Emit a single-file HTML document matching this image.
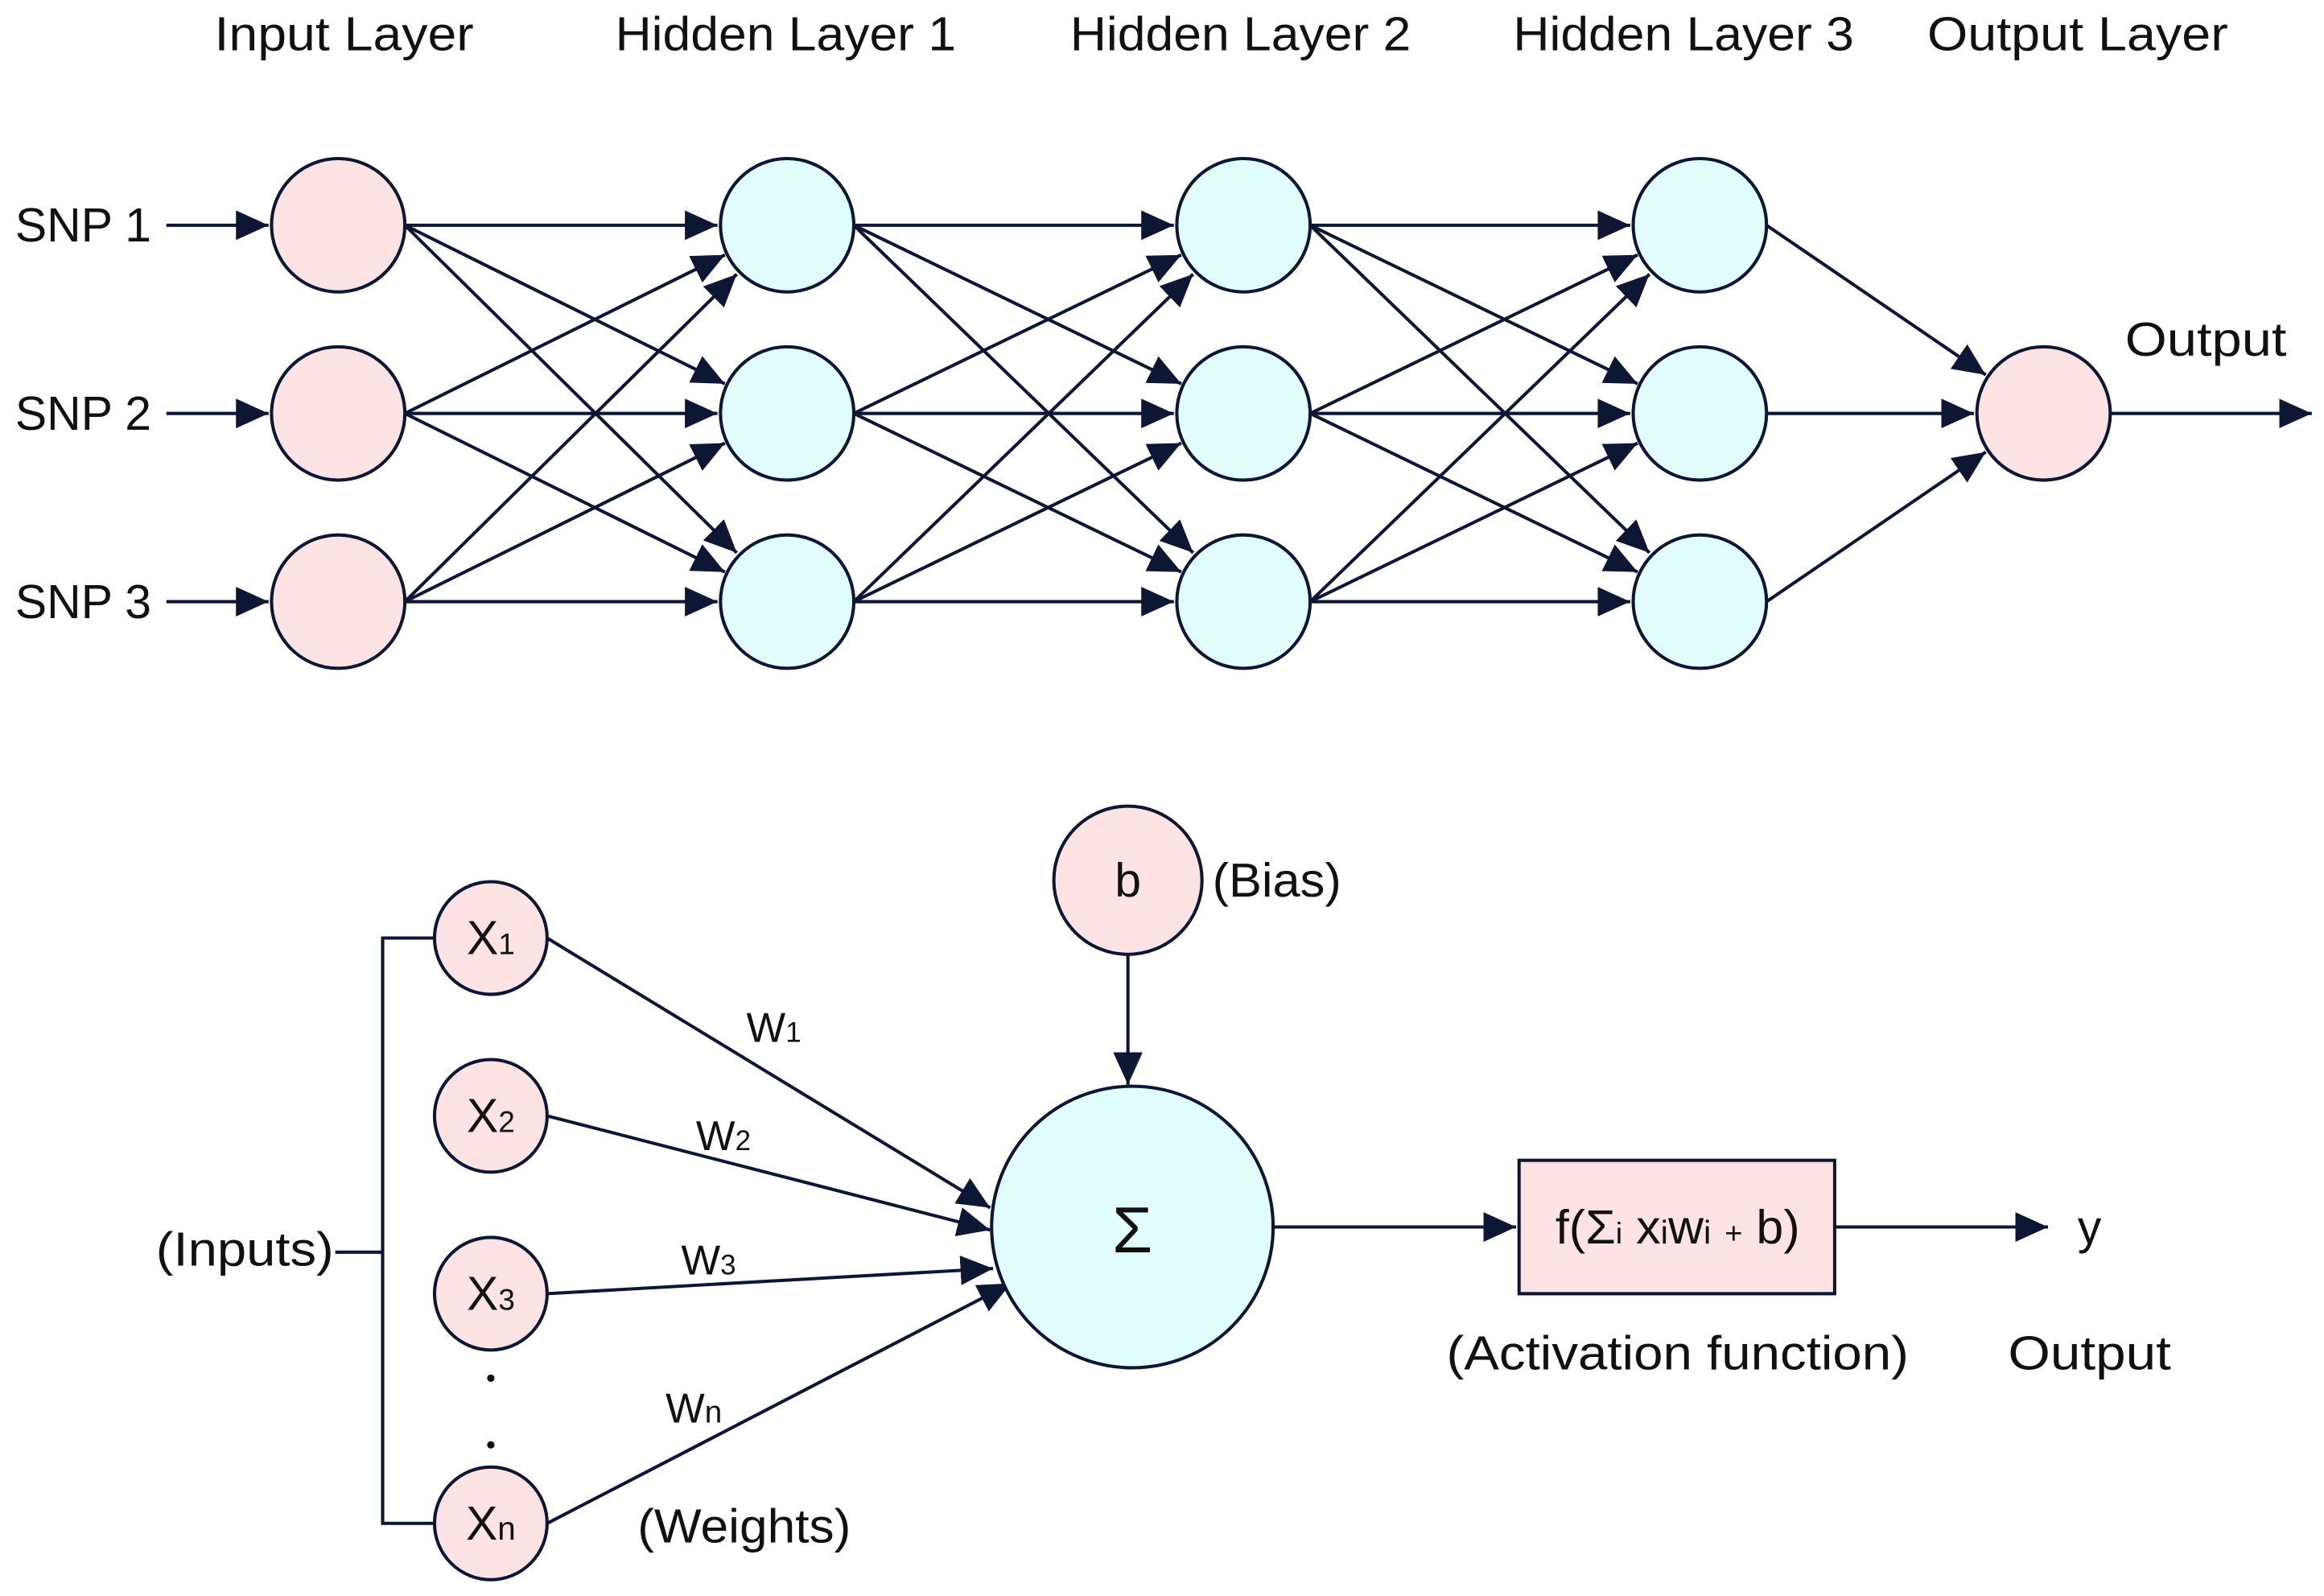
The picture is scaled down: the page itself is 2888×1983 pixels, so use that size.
<!DOCTYPE html>
<html><head><meta charset="utf-8"><style>
html,body{margin:0;padding:0;background:#fff}
svg{display:block}
text{font-family:"Liberation Sans","DejaVu Sans",sans-serif;fill:#111}
</style></head><body>
<svg width="2888" height="1983" viewBox="0 0 1568 1077" xmlns="http://www.w3.org/2000/svg">
<defs>
<marker id="a" markerUnits="userSpaceOnUse" markerWidth="24" markerHeight="20" refX="22" refY="10" orient="auto">
<path d="M0,0 L22,10 L0,20 Z" fill="#0d1633"/>
</marker>
</defs>
<g font-size="32" text-anchor="middle">
<text x="232" y="34" textLength="175" lengthAdjust="spacingAndGlyphs">Input Layer</text>
<text x="530" y="34" textLength="230" lengthAdjust="spacingAndGlyphs">Hidden Layer 1</text>
<text x="837" y="34" textLength="230" lengthAdjust="spacingAndGlyphs">Hidden Layer 2</text>
<text x="1136" y="34" textLength="230" lengthAdjust="spacingAndGlyphs">Hidden Layer 3</text>
<text x="1402" y="34" textLength="203" lengthAdjust="spacingAndGlyphs">Output Layer</text>
</g>
<g font-size="32">
<text x="10" y="163">SNP 1</text>
<text x="10" y="290">SNP 2</text>
<text x="10" y="417">SNP 3</text>
<text x="1434" y="240" textLength="109" lengthAdjust="spacingAndGlyphs">Output</text>
</g>
<g stroke="#0d1633" stroke-width="2.2" marker-end="url(#a)" fill="none">
<line x1="112" y1="152" x2="181" y2="152"/>
<line x1="112" y1="279" x2="181" y2="279"/>
<line x1="112" y1="406" x2="181" y2="406"/>
<line x1="273" y1="152" x2="484" y2="152"/><line x1="273" y1="152" x2="489" y2="259"/><line x1="273" y1="152" x2="497" y2="373"/>
<line x1="273" y1="279" x2="489" y2="172"/><line x1="273" y1="279" x2="484" y2="279"/><line x1="273" y1="279" x2="489" y2="386"/>
<line x1="273" y1="406" x2="497" y2="185"/><line x1="273" y1="406" x2="489" y2="299"/><line x1="273" y1="406" x2="484" y2="406"/>
<line x1="576" y1="152" x2="792" y2="152"/><line x1="576" y1="152" x2="797" y2="259"/><line x1="576" y1="152" x2="805" y2="373"/>
<line x1="576" y1="279" x2="797" y2="172"/><line x1="576" y1="279" x2="792" y2="279"/><line x1="576" y1="279" x2="797" y2="386"/>
<line x1="576" y1="406" x2="805" y2="185"/><line x1="576" y1="406" x2="797" y2="299"/><line x1="576" y1="406" x2="792" y2="406"/>
<line x1="884" y1="152" x2="1100" y2="152"/><line x1="884" y1="152" x2="1105" y2="259"/><line x1="884" y1="152" x2="1113" y2="373"/>
<line x1="884" y1="279" x2="1105" y2="172"/><line x1="884" y1="279" x2="1100" y2="279"/><line x1="884" y1="279" x2="1105" y2="386"/>
<line x1="884" y1="406" x2="1113" y2="185"/><line x1="884" y1="406" x2="1105" y2="299"/><line x1="884" y1="406" x2="1100" y2="406"/>
<line x1="1192" y1="152" x2="1340" y2="253"/>
<line x1="1192" y1="279" x2="1332" y2="279"/>
<line x1="1192" y1="406" x2="1340" y2="305"/>
<line x1="1424" y1="279" x2="1560" y2="279"/>
<line x1="761" y1="644" x2="761" y2="732"/>
<line x1="369" y1="633" x2="668" y2="815"/>
<line x1="369" y1="753" x2="668" y2="830"/>
<line x1="369" y1="873" x2="670" y2="856"/>
<line x1="369" y1="1028" x2="682" y2="866"/>
<line x1="860" y1="828" x2="1023" y2="828"/>
<line x1="1238" y1="828" x2="1382" y2="828"/>
</g>
<g stroke="#0d1633" stroke-width="2.2" fill="none">
<polyline points="293,633 258,633 258,1028 293,1028"/>
<line x1="226" y1="845" x2="258" y2="845"/>
</g>
<g stroke="#0d1633" stroke-width="2.2">
<g fill="#fde3e3">
<circle cx="228" cy="152" r="45"/><circle cx="228" cy="279" r="45"/><circle cx="228" cy="406" r="45"/>
<circle cx="1379" cy="279" r="45"/>
<circle cx="761" cy="594" r="50"/>
<circle cx="331" cy="633" r="38"/><circle cx="331" cy="753" r="38"/><circle cx="331" cy="873" r="38"/><circle cx="331" cy="1028" r="38"/>
<rect x="1025" y="783" width="213" height="90"/>
</g>
<g fill="#e0fdfb">
<circle cx="531" cy="152" r="45"/><circle cx="531" cy="279" r="45"/><circle cx="531" cy="406" r="45"/>
<circle cx="839" cy="152" r="45"/><circle cx="839" cy="279" r="45"/><circle cx="839" cy="406" r="45"/>
<circle cx="1147" cy="152" r="45"/><circle cx="1147" cy="279" r="45"/><circle cx="1147" cy="406" r="45"/>
<circle cx="764" cy="828" r="95"/>
</g>
</g>
<circle cx="331" cy="930" r="2.5" fill="#111"/><circle cx="331" cy="975" r="2.5" fill="#111"/>
<g font-size="32" text-anchor="middle">
<text x="761" y="605">b</text>
<text x="764" y="845" font-size="44">Σ</text>
<text x="331" y="644">X<tspan font-size="20">1</tspan></text>
<text x="331" y="764">X<tspan font-size="20">2</tspan></text>
<text x="331" y="884">X<tspan font-size="20">3</tspan></text>
<text x="331" y="1039">X<tspan font-size="22">n</tspan></text>
<text x="522" y="703" font-size="28">W<tspan font-size="19">1</tspan></text>
<text x="488" y="776" font-size="28">W<tspan font-size="19">2</tspan></text>
<text x="478" y="860" font-size="28">W<tspan font-size="19">3</tspan></text>
<text x="468" y="960" font-size="28">W<tspan font-size="21">n</tspan></text>
<text x="502" y="1041" textLength="144" lengthAdjust="spacingAndGlyphs">(Weights)</text>
<text x="165" y="854" textLength="120" lengthAdjust="spacingAndGlyphs">(Inputs)</text>
<text x="1132" y="839" textLength="165" lengthAdjust="spacingAndGlyphs">f(Σ<tspan font-size="20">i</tspan> x<tspan font-size="22">i</tspan>w<tspan font-size="22">i</tspan> <tspan font-size="20">+</tspan> b)</text>
<text x="1132" y="924" textLength="312" lengthAdjust="spacingAndGlyphs">(Activation function)</text>
<text x="1410" y="924" textLength="110" lengthAdjust="spacingAndGlyphs">Output</text>
<text x="1410" y="839">y</text>
</g>
<text x="818" y="605" font-size="32" textLength="87" lengthAdjust="spacingAndGlyphs">(Bias)</text>
</svg>
</body></html>
